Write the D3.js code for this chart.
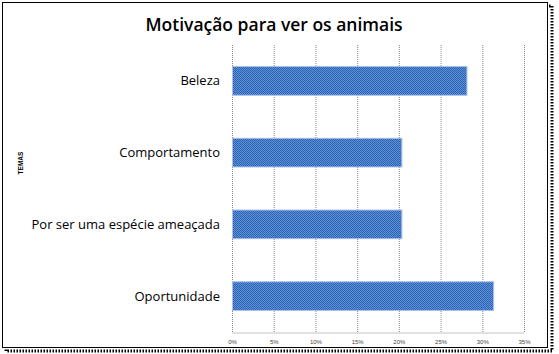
<!DOCTYPE html>
<html>
<head>
<meta charset="utf-8">
<script src="https://cdn.jsdelivr.net/npm/d3@7"></script>
<style>
body { margin: 0; background: #fff; }
</style>
</head>
<body>
<svg width="559" height="354"></svg>
<script>
const categories = ["Beleza", "Comportamento", "Por ser uma espécie ameaçada", "Oportunidade"];
const values = [28.1, 20.3, 20.3, 31.3];
const ticks = [0, 5, 10, 15, 20, 25, 30, 35];
const title = "Motivação para ver os animais";
const axisTitle = "TEMAS";

function drawChart() {
    const svg = d3.select("svg");
    const plot = {left: 232, right: 524, top: 45, bottom: 332};

    // pattern for the checkered bars
    const defs = svg.append("defs");
    const pat = defs.append("pattern").attr("id", "hatch")
        .attr("width", 2).attr("height", 2).attr("patternUnits", "userSpaceOnUse");
    pat.append("rect").attr("width", 2).attr("height", 2).attr("fill", "#5a8ed6");
    pat.append("rect").attr("width", 1).attr("height", 1).attr("fill", "#3065b3");
    pat.append("rect").attr("x", 1).attr("y", 1).attr("width", 1).attr("height", 1).attr("fill", "#3065b3");

    // frame with dotted shadow
    svg.append("rect").attr("x", 6).attr("y", 6).attr("width", 546).attr("height", 345)
        .attr("fill", "none").attr("stroke", "#000").attr("stroke-width", 3)
        .attr("stroke-dasharray", "1.5,1.5");
    svg.append("rect").attr("x", 2.5).attr("y", 2.5).attr("width", 545).attr("height", 345)
        .attr("fill", "#fff").attr("stroke", "#000").attr("stroke-width", 1);

    const xScale = d3.scaleLinear().domain([0, 35]).range([plot.left, plot.right]);
    const yScale = d3.scaleBand().domain(categories).range([plot.top, plot.bottom]).paddingInner(0.6).paddingOuter(0.3);

    // grid
    svg.append("g").selectAll("line").data(ticks).enter().append("line")
        .attr("x1", d => xScale(d) + 0.5).attr("x2", d => xScale(d) + 0.5)
        .attr("y1", plot.top).attr("y2", plot.bottom)
        .attr("stroke", "#888").attr("stroke-width", 1).attr("stroke-dasharray", "1,1");

    // x axis
    const gx = svg.append("g").attr("transform", `translate(0,${plot.bottom + 0.5})`)
        .call(d3.axisBottom(xScale).tickValues(ticks).tickSize(0).tickPadding(7).tickFormat(d => d + "%"));
    gx.select(".domain").attr("stroke", "#888").attr("stroke-dasharray", "1,1");
    gx.selectAll("text").attr("font-family", "Liberation Sans, sans-serif").attr("font-size", 6).attr("fill", "#444");

    // bars
    svg.append("g").selectAll("rect").data(categories).enter().append("rect")
        .attr("x", xScale(0) + 0.5)
        .attr("y", d => yScale(d))
        .attr("width", (d, i) => xScale(values[i]) - xScale(0))
        .attr("height", yScale.bandwidth())
        .attr("fill", "url(#hatch)")
        .attr("stroke", "#a9bfe8").attr("stroke-width", 1);

    // category labels
    svg.append("g").selectAll("text").data(categories).enter().append("text")
        .attr("x", 220).attr("y", d => yScale(d) + yScale.bandwidth() / 2)
        .attr("dy", "0.35em").attr("text-anchor", "end")
        .attr("font-family", "Open Sans, sans-serif").attr("font-size", 13).attr("fill", "#000")
        .text(d => d);

    // axis title
    svg.append("text").attr("transform", "translate(23,163) rotate(-90)")
        .attr("text-anchor", "middle").attr("font-family", "Liberation Sans, sans-serif")
        .attr("font-size", 6.5).attr("font-weight", "bold").text(axisTitle);

    // title
    svg.append("text").attr("x", 274).attr("y", 31).attr("text-anchor", "middle")
        .attr("font-family", "Open Sans, sans-serif").attr("font-weight", 600)
        .attr("font-size", 17.5).text(title);
}

drawChart();
</script>
</body>
</html>
